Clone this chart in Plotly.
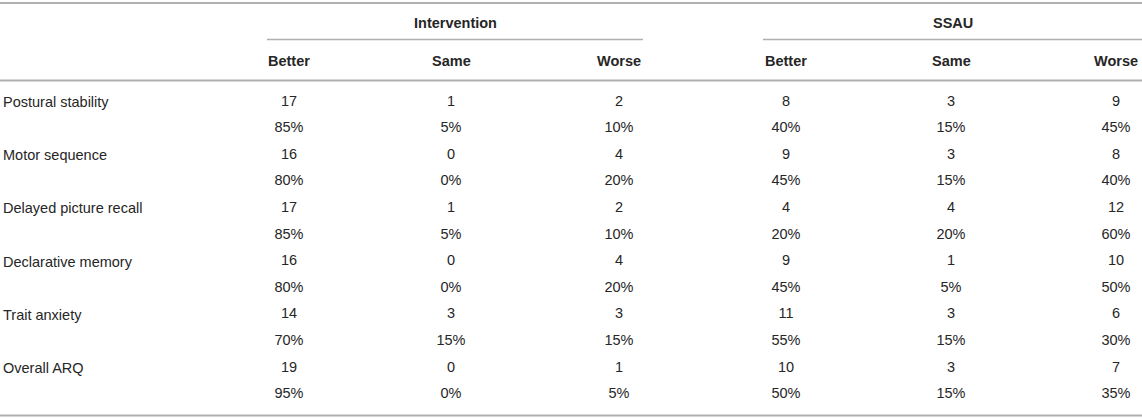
import plotly.graph_objects as go

# ---- data ----
measures = ["Postural stability", "Motor sequence", "Delayed picture recall",
            "Declarative memory", "Trait anxiety", "Overall ARQ"]
groups = ["Intervention", "SSAU"]
outcomes = ["Better", "Same", "Worse"]

int_better = [17, 16, 17, 16, 14, 19]
int_same = [1, 0, 1, 0, 3, 0]
int_worse = [2, 4, 2, 4, 3, 1]
int_better_pct = [85, 80, 85, 80, 70, 95]
int_same_pct = [5, 0, 5, 0, 15, 0]
int_worse_pct = [10, 20, 10, 20, 15, 5]

ssau_better = [8, 9, 4, 9, 11, 10]
ssau_same = [3, 3, 4, 1, 3, 3]
ssau_worse = [9, 8, 12, 10, 6, 7]
ssau_better_pct = [40, 45, 20, 45, 55, 50]
ssau_same_pct = [15, 15, 20, 5, 15, 15]
ssau_worse_pct = [45, 40, 60, 50, 30, 35]

# ---- layout constants ----
W, H = 1142, 418
FONT = "Liberation Sans, Arial, Helvetica, sans-serif"
FS = 14.5
TXT = "#262626"
LINE = "#b0b0b0"
col_x = [289, 451, 619, 786, 951, 1116]
group_span = [(267, 643), (763, 1142)]
y_group, y_sub = 23, 61
row0, pitch = 102, 26.6
label_x = 1

columns = [
    (int_better, int_better_pct), (int_same, int_same_pct), (int_worse, int_worse_pct),
    (ssau_better, ssau_better_pct), (ssau_same, ssau_same_pct), (ssau_worse, ssau_worse_pct),
]

fig = go.Figure()

# numeric cells
for cx, (counts, pcts) in zip(col_x, columns):
    ys, ts = [], []
    for i, (c, p) in enumerate(zip(counts, pcts)):
        ys += [row0 + pitch * (2 * i), row0 + pitch * (2 * i + 1)]
        ts += [str(c), f"{p}%"]
    fig.add_trace(go.Scatter(x=[cx] * len(ys), y=ys, text=ts, mode="text",
                             textposition="middle center",
                             textfont=dict(family=FONT, size=FS, color=TXT),
                             hoverinfo="skip", showlegend=False))

annotations = []
# row labels
for i, m in enumerate(measures):
    annotations.append(dict(x=label_x, y=row0 + pitch * 2 * i, text=m, showarrow=False,
                            xanchor="left", yanchor="middle", xref="x", yref="y",
                            font=dict(family=FONT, size=FS, color=TXT)))
# group headers
for g, (a, b) in zip(groups, group_span):
    annotations.append(dict(x=(a + b) / 2, y=y_group, text=f"<b>{g}</b>", showarrow=False,
                            xanchor="center", yanchor="middle", xref="x", yref="y",
                            font=dict(family=FONT, size=FS, color=TXT)))
# sub headers
for k, cx in enumerate(col_x):
    annotations.append(dict(x=cx, y=y_sub, text=f"<b>{outcomes[k % 3]}</b>", showarrow=False,
                            xanchor="center", yanchor="middle", xref="x", yref="y",
                            font=dict(family=FONT, size=FS, color=TXT)))

shapes = [
    dict(type="line", x0=0, x1=W, y0=3, y1=3, xref="x", yref="y", line=dict(color=LINE, width=2)),
    dict(type="line", x0=0, x1=W, y0=80.5, y1=80.5, xref="x", yref="y", line=dict(color=LINE, width=2)),
    dict(type="line", x0=0, x1=W, y0=415.5, y1=415.5, xref="x", yref="y", line=dict(color=LINE, width=2)),
]
for a, b in group_span:
    shapes.append(dict(type="line", x0=a, x1=b, y0=39.5, y1=39.5, xref="x", yref="y",
                       line=dict(color=LINE, width=1.5)))

fig.update_layout(
    width=W, height=H, margin=dict(l=0, r=0, t=0, b=0),
    paper_bgcolor="white", plot_bgcolor="white",
    xaxis=dict(range=[0, W], visible=False, fixedrange=True),
    yaxis=dict(range=[H, 0], visible=False, fixedrange=True),
    annotations=annotations, shapes=shapes,
)

fig.write_html("out.html", config={"displayModeBar": False},
               post_script="document.body.style.margin='0';document.body.style.overflow='hidden';")
